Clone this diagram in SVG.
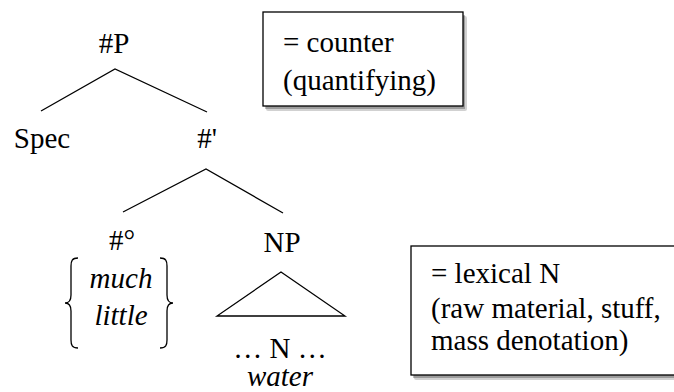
<svg xmlns="http://www.w3.org/2000/svg" width="674" height="392" viewBox="0 0 674 392">
<style>
  text { font-family: 'Liberation Serif', serif; font-size: 29px; fill: #000; }
  .c { text-anchor: middle; }
  .i { font-style: italic; }
  .edge { stroke: #000; stroke-width: 1.3; fill: none; }
  .box { fill: #fff; stroke: #000; stroke-width: 1.3; }
  .shadow { fill: #000; opacity: 0.18; }
  .shadow2 { fill: #000; opacity: 0.25; }
</style>
<g id="connectors">
  <path class="edge" d="M41,111 L115,69 L207,112"/>
  <path class="edge" d="M123,212 L206,169 L283,213"/>
  <path class="edge" d="M281,272 L217,316 L345,316 Z" stroke-width="1.6"/>
</g>
<g id="node-P"><text class="c" x="114" y="53">#P</text></g>
<g id="node-spec"><text class="c" x="42" y="148">Spec</text></g>
<g id="node-bar"><text class="c" x="207" y="148">#'</text></g>
<g id="node-head">
  <text class="c" x="122" y="250">#&#176;</text>
  <path class="edge" d="M78,258 C72,258 71,261 71,266 L71,295 C71,300 69,303 65,303 C69,303 71,306 71,311 L71,340 C71,345 72,348 78,348"/>
  <path class="edge" d="M160,258 C166,258 167,261 167,266 L167,295 C167,300 169,303 173,303 C169,303 167,306 167,311 L167,340 C167,345 166,348 160,348"/>
  <text class="c i" x="121" y="288">much</text>
  <text class="c i" x="121" y="325">little</text>
</g>
<g id="node-NP">
  <text class="c" x="282" y="252">NP</text>
  <text class="c" x="280" y="358">&#8230; N &#8230;</text>
  <text class="c i" x="280" y="386">water</text>
</g>
<g id="box-counter">
  <rect class="shadow" x="266" y="16" width="201" height="95" rx="2"/>
  <rect class="shadow2" x="265" y="15" width="200" height="94"/>
  <rect class="box" x="263" y="12" width="200" height="94"/>
  <text x="283" y="52">= counter</text>
  <text x="283" y="90">(quantifying)</text>
</g>
<g id="box-lexical">
  <rect class="shadow" x="414" y="250" width="266" height="130" rx="2"/>
  <rect class="shadow2" x="413" y="249" width="266" height="129"/>
  <rect class="box" x="411" y="246" width="266" height="129"/>
  <text x="431" y="283">= lexical N</text>
  <text x="431" y="318">(raw material, stuff,</text>
  <text x="431" y="350">mass denotation)</text>
</g>
</svg>
